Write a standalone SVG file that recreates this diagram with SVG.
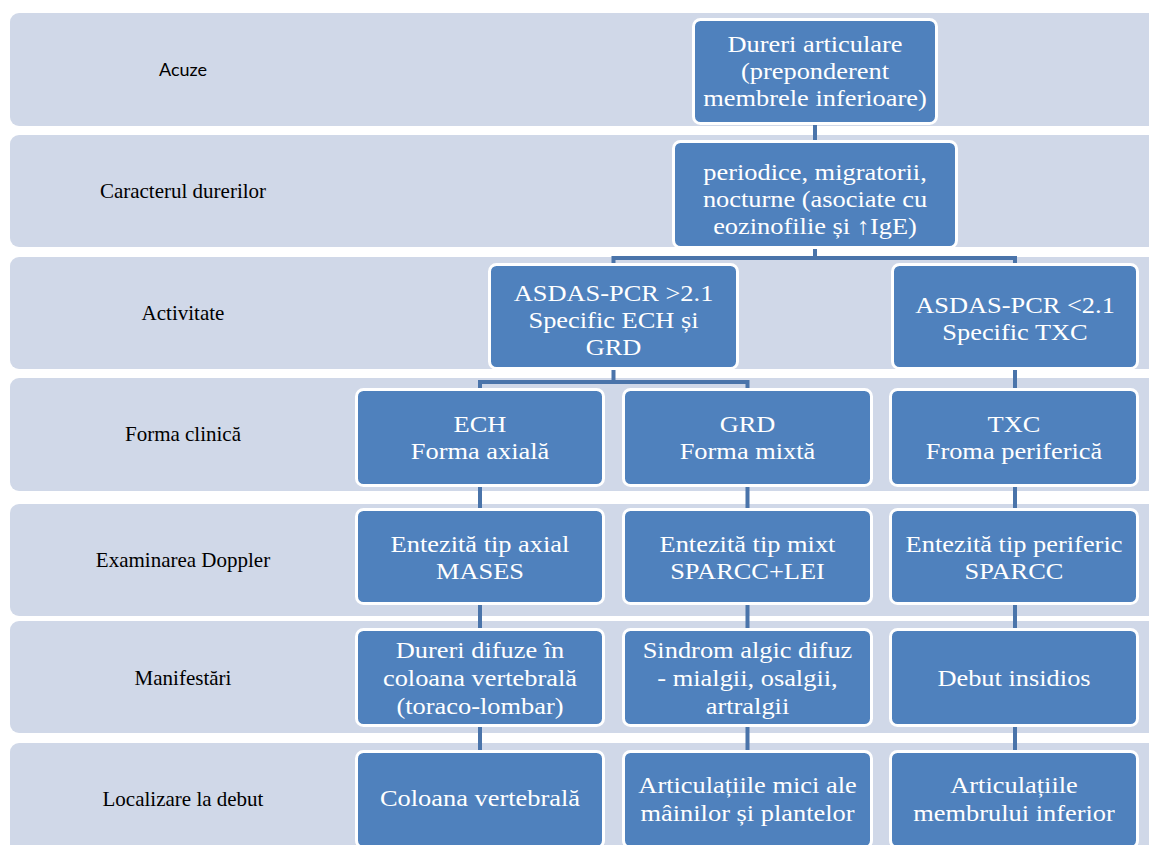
<svg xmlns="http://www.w3.org/2000/svg" width="1149" height="845" viewBox="0 0 1149 845">
<style>
.band{fill:#D0D8E8}
.node{fill:#4F81BD;stroke:#FFFFFF;stroke-width:3}
.nt{font-family:"Liberation Serif","Times New Roman",serif;font-size:24px;fill:#FFFFFF;text-anchor:middle}
.lb{font-family:"Liberation Serif","Times New Roman",serif;font-size:21px;fill:#000000;text-anchor:middle}
.lbs{font-family:Lato,"Liberation Sans",sans-serif;font-size:18px;fill:#000000;text-anchor:middle}
.conn{fill:none;stroke:#4A74AA;stroke-width:4}
</style>
<rect width="1149" height="845" fill="#FFFFFF"/>
<g id="bands">
<rect class="band" x="10" y="13" width="1160" height="113" rx="9"/>
<rect class="band" x="10" y="135" width="1160" height="112" rx="9"/>
<rect class="band" x="10" y="257" width="1160" height="112" rx="9"/>
<rect class="band" x="10" y="378" width="1160" height="113" rx="9"/>
<rect class="band" x="10" y="504" width="1160" height="112" rx="9"/>
<rect class="band" x="10" y="621" width="1160" height="112" rx="9"/>
<rect class="band" x="10" y="743" width="1160" height="120" rx="9"/>
</g>
<g id="labels">
<text class="lbs" x="183" y="76">Acuze</text>
<text class="lb" x="183" y="198">Caracterul durerilor</text>
<text class="lb" x="183" y="320">Activitate</text>
<text class="lb" x="183" y="441">Forma clinică</text>
<text class="lb" x="183" y="567">Examinarea Doppler</text>
<text class="lb" x="183" y="685">Manifestări</text>
<text class="lb" x="183" y="806">Localizare la debut</text>
</g>
<g id="connectors">
<path class="conn" d="M815 124 V142"/>
<path class="conn" d="M815 247 V258 M613.5 266 V258 H1015 V266"/>
<path class="conn" d="M613.5 368 V382 M480 391 V382 H747.5 V391"/>
<path class="conn" d="M1015 368 V391"/>
<path class="conn" d="M480 486 V511 M747.5 486 V511 M1015 486 V511"/>
<path class="conn" d="M480 603 V631 M747.5 603 V631 M1015 603 V631"/>
<path class="conn" d="M480 725 V753 M747.5 725 V753 M1015 725 V753"/>
</g>
<g id="n1"><rect class="node" x="693.5" y="19.5" width="243" height="104" rx="7"/>
<g transform="translate(815,0) scale(1.1,1)"><text class="nt" x="0" y="52">Dureri articulare</text><text class="nt" x="0" y="79">(preponderent</text><text class="nt" x="0" y="106">membrele inferioare)</text></g></g>
<g id="n2"><rect class="node" x="673.5" y="141.5" width="283" height="106" rx="7"/>
<g transform="translate(815,0) scale(1.1,1)"><text class="nt" x="0" y="180">periodice, migratorii,</text><text class="nt" x="0" y="207">nocturne (asociate cu</text><text class="nt" x="0" y="234">eozinofilie și ↑IgE)</text></g></g>
<g id="n3"><rect class="node" x="489.5" y="264.5" width="248" height="104" rx="7"/>
<g transform="translate(613.5,0) scale(1.1,1)"><text class="nt" x="0" y="301">ASDAS-PCR &gt;2.1</text><text class="nt" x="0" y="328">Specific ECH și</text><text class="nt" x="0" y="355">GRD</text></g></g>
<g id="n4"><rect class="node" x="892.5" y="264.5" width="245" height="104" rx="7"/>
<g transform="translate(1015,0) scale(1.1,1)"><text class="nt" x="0" y="313">ASDAS-PCR &lt;2.1</text><text class="nt" x="0" y="340">Specific TXC</text></g></g>
<g id="n5"><rect class="node" x="356.5" y="389.5" width="247" height="96" rx="7"/>
<g transform="translate(480,0) scale(1.1,1)"><text class="nt" x="0" y="432">ECH</text><text class="nt" x="0" y="459">Forma axială</text></g></g>
<g id="n6"><rect class="node" x="623.5" y="389.5" width="248" height="96" rx="7"/>
<g transform="translate(747.5,0) scale(1.1,1)"><text class="nt" x="0" y="432">GRD</text><text class="nt" x="0" y="459">Forma mixtă</text></g></g>
<g id="n7"><rect class="node" x="890.5" y="389.5" width="247" height="96" rx="7"/>
<g transform="translate(1014,0) scale(1.1,1)"><text class="nt" x="0" y="432">TXC</text><text class="nt" x="0" y="459">Froma periferică</text></g></g>
<g id="n8"><rect class="node" x="356.5" y="509.5" width="247" height="94" rx="7"/>
<g transform="translate(480,0) scale(1.1,1)"><text class="nt" x="0" y="552">Entezită tip axial</text><text class="nt" x="0" y="579">MASES</text></g></g>
<g id="n9"><rect class="node" x="623.5" y="509.5" width="248" height="94" rx="7"/>
<g transform="translate(747.5,0) scale(1.1,1)"><text class="nt" x="0" y="552">Entezită tip mixt</text><text class="nt" x="0" y="579">SPARCC+LEI</text></g></g>
<g id="n10"><rect class="node" x="890.5" y="509.5" width="247" height="94" rx="7"/>
<g transform="translate(1014,0) scale(1.1,1)"><text class="nt" x="0" y="552">Entezită tip periferic</text><text class="nt" x="0" y="579">SPARCC</text></g></g>
<g id="n11"><rect class="node" x="356.5" y="629.5" width="247" height="96" rx="7"/>
<g transform="translate(480,0) scale(1.1,1)"><text class="nt" x="0" y="658">Dureri difuze în</text><text class="nt" x="0" y="686">coloana vertebrală</text><text class="nt" x="0" y="714">(toraco-lombar)</text></g></g>
<g id="n12"><rect class="node" x="623.5" y="629.5" width="248" height="96" rx="7"/>
<g transform="translate(747.5,0) scale(1.1,1)"><text class="nt" x="0" y="658">Sindrom algic difuz</text><text class="nt" x="0" y="686">- mialgii, osalgii,</text><text class="nt" x="0" y="714">artralgii</text></g></g>
<g id="n13"><rect class="node" x="890.5" y="629.5" width="247" height="96" rx="7"/>
<g transform="translate(1014,0) scale(1.1,1)"><text class="nt" x="0" y="686">Debut insidios</text></g></g>
<g id="n14"><rect class="node" x="356.5" y="751.5" width="247" height="96" rx="7"/>
<g transform="translate(480,0) scale(1.1,1)"><text class="nt" x="0" y="806">Coloana vertebrală</text></g></g>
<g id="n15"><rect class="node" x="623.5" y="751.5" width="248" height="96" rx="7"/>
<g transform="translate(747.5,0) scale(1.1,1)"><text class="nt" x="0" y="793">Articulațiile mici ale</text><text class="nt" x="0" y="821">mâinilor și plantelor</text></g></g>
<g id="n16"><rect class="node" x="890.5" y="751.5" width="247" height="96" rx="7"/>
<g transform="translate(1014,0) scale(1.1,1)"><text class="nt" x="0" y="793">Articulațiile</text><text class="nt" x="0" y="821">membrului inferior</text></g></g>
</svg>
